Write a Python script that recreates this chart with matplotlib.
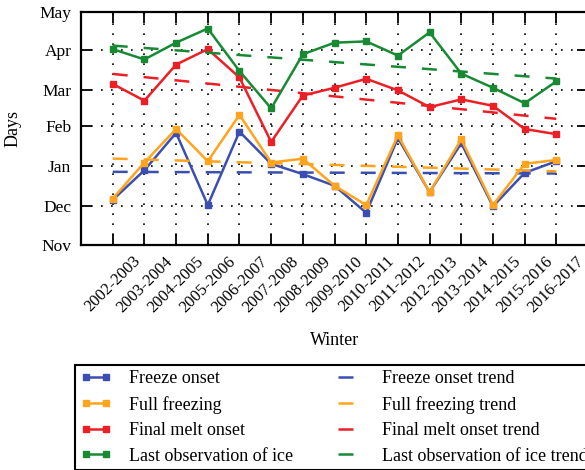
import numpy as np
import matplotlib.pyplot as plt

plt.rcParams['font.family'] = ['Liberation Serif', 'DejaVu Serif']
plt.rcParams['font.size'] = 13

# Ice phenology per winter, in days counted from 1 November
winters = ['2002-2003', '2003-2004', '2004-2005', '2005-2006', '2006-2007',
           '2007-2008', '2008-2009', '2009-2010', '2010-2011', '2011-2012',
           '2012-2013', '2013-2014', '2014-2015', '2015-2016', '2016-2017']
freeze_onset = [35, 58, 87, 31, 88, 63, 55, 46, 25, 83, 41, 79, 30, 56, 65]
full_freezing = [36, 64, 90, 65, 101, 64, 67, 46, 31, 85, 41, 82, 31, 63, 66]
final_melt_onset = [125, 112, 140, 152, 130, 80, 116, 122, 129, 120, 107, 113, 108, 90, 86]
last_ice = [152, 144, 157, 168, 135, 106, 148, 157, 158, 147, 165, 133, 122, 110, 127]

month_days = [0, 30, 61, 92, 120, 151, 181]
month_labels = ['Nov', 'Dec', 'Jan', 'Feb', 'Mar', 'Apr', 'May']

series = [
    ('Freeze onset', freeze_onset, '#3b4fb3'),
    ('Full freezing', full_freezing, '#ffa41c'),
    ('Final melt onset', final_melt_onset, '#ed1f26'),
    ('Last observation of ice', last_ice, '#188a34'),
]

fig = plt.figure(figsize=(5.85, 4.70), dpi=100)
ax = fig.add_axes([0.1385, 0.4787, 0.8667, 0.4963])

x = np.arange(len(winters))
data_lines = []
trend_lines = []
for name, vals, col in series:
    l, = ax.plot(x, vals, color=col, lw=1.8, marker='s', ms=4.5, label=name)
    data_lines.append(l)
    # linear trend over all winters
    k, b = np.polyfit(x, vals, 1)
    t, = ax.plot(x, k * x + b, color=col, lw=1.8, linestyle=(0, (6, 6.4)),
                 label=name + ' trend')
    trend_lines.append(t)

ax.set_xlim(-1, 15)
ax.set_ylim(0, 181)
ax.set_xticks(x)
ax.set_xticklabels(winters, rotation=45, ha='center', fontsize=12)
ax.set_yticks(month_days)
ax.set_yticklabels(month_labels, fontsize=12.5)
ax.tick_params(direction='in', length=8, width=1.3, top=True, right=True, pad=7)
ax.tick_params(axis='x', pad=6)
for s in ax.spines.values():
    s.set_linewidth(1.6)
ax.grid(True, color='black', lw=1.2, linestyle=(0, (1, 5)))

ax.set_xlabel('Winter')
ax.xaxis.set_label_coords(0.5, -0.375)
ax.set_ylabel('Days')
ax.yaxis.set_label_coords(-0.118, 0.5)

leg = fig.legend(data_lines + trend_lines,
                 [l.get_label() for l in data_lines + trend_lines],
                 ncol=2, loc='upper left', bbox_to_anchor=(0.128, 0.2234),
                 bbox_transform=fig.transFigure, borderaxespad=0,
                 numpoints=2, handlelength=1.7, handletextpad=1.0,
                 columnspacing=2.2, labelspacing=0.47, borderpad=0.3,
                 fancybox=False, edgecolor='black', framealpha=1)
leg.get_frame().set_linewidth(1.5)

fig.savefig('out.png', dpi=100)
